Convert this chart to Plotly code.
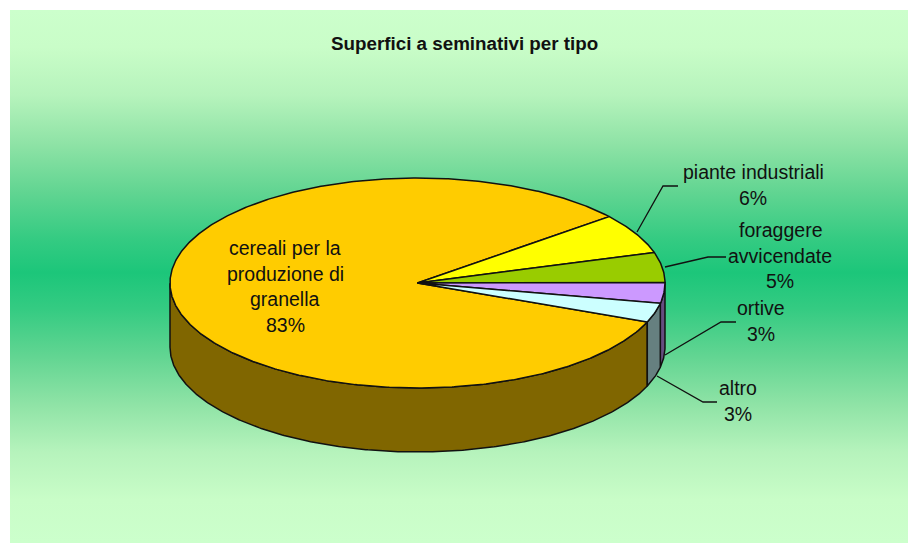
"""Superfici a seminativi per tipo: tilted 3D-style pie drawn with Plotly scatter traces."""

import numpy as np
import plotly.graph_objects as go

categories = ["cereali per la produzione di granella", "piante industriali", "foraggere avvicendate", "ortive", "altro"]
values = [83.05, 6.2, 4.6, 3.2, 2.95]
percent_labels = ["83%", "6%", "5%", "3%", "3%"]
top_colors = ["#FFCC00", "#FFFF00", "#99CC00", "#CC99FF", "#CCFFFF"]
side_colors = ["#806600", "#808000", "#4D6600", "#664D80", "#668080"]

# pie geometry, in pixels of the page
CX, CY, RX, RY, DEPTH = 417.5, 283, 247.5, 105, 64
START_DEG = -21.8

label_lines = [
    ["cereali per la", "produzione di", "granella"],
    ["piante industriali"],
    ["foraggere", "avvicendate"],
    ["ortive"],
    ["altro"],
]
label_x = [285, 753, 780, 761, 738]
label_y = [248, 172, 230, 308, 388]
LINE_STEP = 25.7

leader_x = [None, [637, 663, 678], [665, 708, 726], [665, 721, 736], [657, 703, 717]]
leader_y = [None, [232, 186, 186], [267, 257, 257], [355, 322, 322], [376, 402, 402]]

bg_stops = [
    (0.0, "#CCFFCC"), (0.08, "#C9FDC8"), (0.17, "#B6F3BC"), (0.26, "#8FE3A6"),
    (0.35, "#62D592"), (0.44, "#34CB82"), (0.507, "#1CC67A"),
    (0.57, "#34CB82"), (0.66, "#62D592"), (0.75, "#8FE3A6"), (0.84, "#B6F3BC"),
    (0.93, "#C9FDC8"), (1.0, "#CCFFCC"),
]

fig = go.Figure()

# background panel
fig.add_trace(go.Scatter(
    x=[10, 908, 908, 10, 10], y=[10, 10, 543, 543, 10],
    mode="lines", line=dict(width=0), fill="toself",
    fillgradient=dict(type="vertical", colorscale=bg_stops),
    hoverinfo="skip",
))

# slice angles run clockwise from the start angle
sweep = np.array(values) / sum(values) * 360
ends = START_DEG - np.cumsum(sweep)
starts = ends + sweep


def arc(a0, a1):
    t = np.radians(np.linspace(a0, a1, max(int(abs(a0 - a1) * 2), 2)))
    return CX + RX * np.cos(t), CY - RY * np.sin(t), t


# side walls first, only the part facing the viewer
for a0, a1, color, name in zip(starts, ends, side_colors, categories):
    x, y, t = arc(a0, a1)
    front = np.sin(t) <= 0
    if front.sum() < 2:
        continue
    x, y = x[front], y[front]
    fig.add_trace(go.Scatter(
        x=np.r_[x, x[::-1], x[0]], y=np.r_[y, y[::-1] + DEPTH, y[0]],
        mode="lines", fill="toself", fillcolor=color,
        line=dict(color="#111111", width=1.5), name=name, hoverinfo="name",
    ))

for a0, a1, color, name in zip(starts, ends, top_colors, categories):
    x, y, _ = arc(a0, a1)
    fig.add_trace(go.Scatter(
        x=np.r_[CX, x, CX], y=np.r_[CY, y, CY],
        mode="lines", fill="toself", fillcolor=color,
        line=dict(color="#111111", width=1.5), name=name, hoverinfo="name",
    ))

for lx, ly in zip(leader_x, leader_y):
    if lx is None:
        continue
    fig.add_trace(go.Scatter(x=lx, y=ly, mode="lines", line=dict(color="#111111", width=1.3), hoverinfo="skip"))

# one annotation per text line, the line spacing is wider than plotly's own
annotations = []
for lines, pct, x, y in zip(label_lines, percent_labels, label_x, label_y):
    for i, text in enumerate(lines + [pct]):
        annotations.append(dict(
            x=x, y=y + i * LINE_STEP, text=text, showarrow=False,
            xanchor="center", yanchor="middle",
            font=dict(family="Liberation Sans", size=19.5, color="#111111"),
        ))
annotations.append(dict(
    x=464, y=43, text="<b>Superfici a seminativi per tipo</b>", showarrow=False,
    xanchor="center", yanchor="middle",
    font=dict(family="Liberation Sans", size=18.8, color="#111111"),
))

fig.update_layout(
    width=908, height=543,
    margin=dict(l=0, r=0, t=0, b=0),
    paper_bgcolor="white", plot_bgcolor="white",
    showlegend=False,
    annotations=annotations,
    xaxis=dict(range=[0, 908], visible=False, fixedrange=True),
    yaxis=dict(range=[543, 0], visible=False, fixedrange=True),
)

# the page's default body margin would shift everything by 8px
fig.write_html("out.html", config={"displayModeBar": False}, post_script="document.body.style.margin = '0';")
